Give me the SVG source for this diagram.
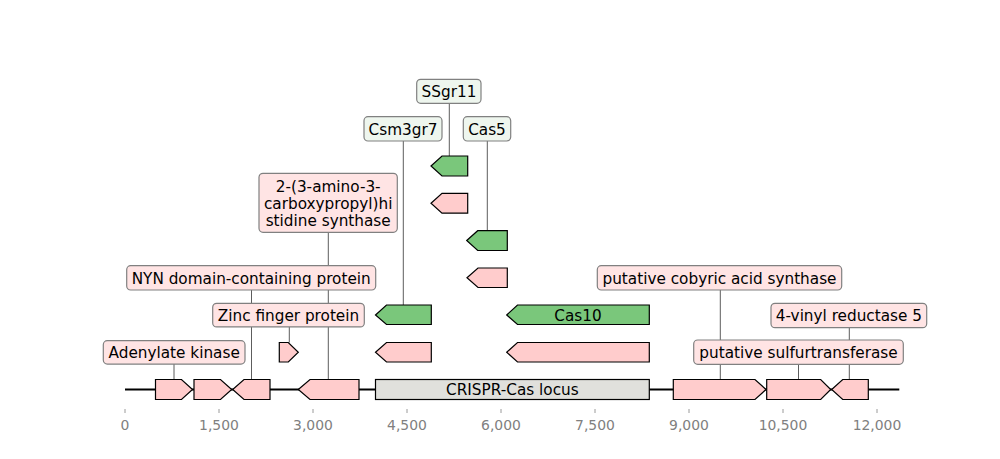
<svg xmlns="http://www.w3.org/2000/svg" width="1000" height="459" viewBox="0 0 1000 459">
<style>
text{font-family:"DejaVu Sans",sans-serif;font-size:15.28px;fill:#000;text-anchor:middle}
.tick text{font-size:13.9px;fill:#808080}
.tick line{stroke:#808080;stroke-width:0.8}
.lbl{stroke:#808080;stroke-width:1.2}
.pb{fill:#ffe4e4}
.gb{fill:#eef6ee}
.conn line{stroke:#333;stroke-width:0.8}
.pk{fill:#ffcccc;stroke:#000;stroke-width:1.2;stroke-linejoin:miter}
.gr{fill:#7ac77b;stroke:#000;stroke-width:1.2}
.lc{fill:#e0e0dc;stroke:#000;stroke-width:1.2}
</style>
<rect width="1000" height="459" fill="#fff"/>
<g id="axis" class="tick">
<line x1="125" y1="409" x2="125" y2="413"/><text x="125" y="430">0</text>
<line x1="219" y1="409" x2="219" y2="413"/><text x="219" y="430">1,500</text>
<line x1="313" y1="409" x2="313" y2="413"/><text x="313" y="430">3,000</text>
<line x1="407" y1="409" x2="407" y2="413"/><text x="407" y="430">4,500</text>
<line x1="501" y1="409" x2="501" y2="413"/><text x="501" y="430">6,000</text>
<line x1="595" y1="409" x2="595" y2="413"/><text x="595" y="430">7,500</text>
<line x1="689" y1="409" x2="689" y2="413"/><text x="689" y="430">9,000</text>
<line x1="783" y1="409" x2="783" y2="413"/><text x="783" y="430">10,500</text>
<line x1="877" y1="409" x2="877" y2="413"/><text x="877" y="430">12,000</text>
</g>
<g id="connectors" class="conn">
<line x1="449.3" y1="103.3" x2="449.3" y2="156"/>
<line x1="403.3" y1="141" x2="403.3" y2="305"/>
<line x1="487.3" y1="141" x2="487.3" y2="230.7"/>
<line x1="328.3" y1="232.3" x2="328.3" y2="379.5"/>
<line x1="251.5" y1="290" x2="251.5" y2="379.5"/>
<line x1="289.3" y1="326.7" x2="289.3" y2="342.5"/>
<line x1="174" y1="364" x2="174" y2="379.5"/>
<line x1="720.3" y1="290" x2="720.3" y2="379.5"/>
<line x1="849.3" y1="327.7" x2="849.3" y2="379.5"/>
<line x1="798.5" y1="364.3" x2="798.5" y2="379.5"/>
</g>
<g id="baseline"><line x1="125" y1="389.5" x2="899.3" y2="389.5" stroke="#000" stroke-width="2"/></g>
<g id="f1"><polygon class="pk" points="155.5,379.5 181.5,379.5 192.5,389.5 181.5,399.5 155.5,399.5"/></g>
<g id="f2"><polygon class="pk" points="194,379.5 220.5,379.5 231.7,389.5 220.5,399.5 194,399.5"/></g>
<g id="f3"><polygon class="pk" points="232.7,389.5 244,379.5 270,379.5 270,399.5 244,399.5"/></g>
<g id="f4"><polygon class="pk" points="298.3,389.5 310,379.5 359,379.5 359,399.5 310,399.5"/></g>
<g id="locus"><rect class="lc" x="375.5" y="379.5" width="273.8" height="20"/><text x="512.4" y="395.2">CRISPR-Cas locus</text></g>
<g id="f5"><polygon class="pk" points="673.3,379.5 755,379.5 766,389.5 755,399.5 673.3,399.5"/></g>
<g id="f6"><polygon class="pk" points="766.7,379.5 820.7,379.5 830.7,389.5 820.7,399.5 766.7,399.5"/></g>
<g id="f7"><polygon class="pk" points="831.7,389.5 842.7,379.5 868.3,379.5 868.3,399.5 842.7,399.5"/></g>
<g id="zf-arrow"><polygon class="pk" points="279.3,342.5 288.3,342.5 298.3,352.25 288.3,362 279.3,362"/></g>
<g id="csm3-pink"><polygon class="pk" points="375.5,352.25 386.5,342.5 431.3,342.5 431.3,362 386.5,362"/></g>
<g id="cas10-pink"><polygon class="pk" points="506.7,352.25 517.5,342.5 649.3,342.5 649.3,362 517.5,362"/></g>
<g id="csm3-green"><polygon class="gr" points="375.5,315 386.5,305 431.3,305 431.3,324.5 386.5,324.5"/></g>
<g id="cas10-green"><polygon class="gr" points="506.7,315 517.5,305 649.3,305 649.3,324.5 517.5,324.5"/><text x="578" y="320.7">Cas10</text></g>
<g id="cas5-pink"><polygon class="pk" points="467,277.75 478,268 507.3,268 507.3,287.5 478,287.5"/></g>
<g id="cas5-green"><polygon class="gr" points="466.7,240.5 477.7,230.7 507.3,230.7 507.3,250.5 477.7,250.5"/></g>
<g id="ssgr-pink"><polygon class="pk" points="431,203.25 442,193.3 467.7,193.3 467.7,213.2 442,213.2"/></g>
<g id="ssgr-green"><polygon class="gr" points="431,166 442,156 467.7,156 467.7,176 442,176"/></g>
<g id="lbl-ssgr11"><rect class="lbl gb" x="416.7" y="79.3" width="64.3" height="24" rx="4"/><text x="449" y="97">SSgr11</text></g>
<g id="lbl-csm3gr7"><rect class="lbl gb" x="364" y="116.7" width="78" height="24.3" rx="4"/><text x="403" y="134.6">Csm3gr7</text></g>
<g id="lbl-cas5"><rect class="lbl gb" x="463.3" y="116.7" width="47.4" height="24.3" rx="4"/><text x="487" y="134.6">Cas5</text></g>
<g id="lbl-his"><rect class="lbl pb" x="259" y="173.3" width="138.3" height="59" rx="4"/><text x="328.2" y="191.5">2-(3-amino-3-</text><text x="328.2" y="208.5">carboxypropyl)hi</text><text x="328.2" y="225.5">stidine synthase</text></g>
<g id="lbl-nyn"><rect class="lbl pb" x="126.7" y="265.7" width="249" height="24.3" rx="4"/><text x="251.2" y="283.6">NYN domain-containing protein</text></g>
<g id="lbl-zinc"><rect class="lbl pb" x="212.7" y="303.3" width="151.6" height="23.6" rx="4"/><text x="288.5" y="320.8">Zinc finger protein</text></g>
<g id="lbl-adk"><rect class="lbl pb" x="103.3" y="340.7" width="141.7" height="23.4" rx="4"/><text x="174.2" y="358.1">Adenylate kinase</text></g>
<g id="lbl-cob"><rect class="lbl pb" x="597.3" y="265.7" width="244.4" height="24.3" rx="4"/><text x="719.5" y="283.6">putative cobyric acid synthase</text></g>
<g id="lbl-vinyl"><rect class="lbl pb" x="771" y="303.3" width="155.7" height="24.4" rx="4"/><text x="848.9" y="321.2">4-vinyl reductase 5</text></g>
<g id="lbl-sulf"><rect class="lbl pb" x="693.7" y="340" width="209.6" height="24.3" rx="4"/><text x="798.5" y="357.9">putative sulfurtransferase</text></g>
</svg>
